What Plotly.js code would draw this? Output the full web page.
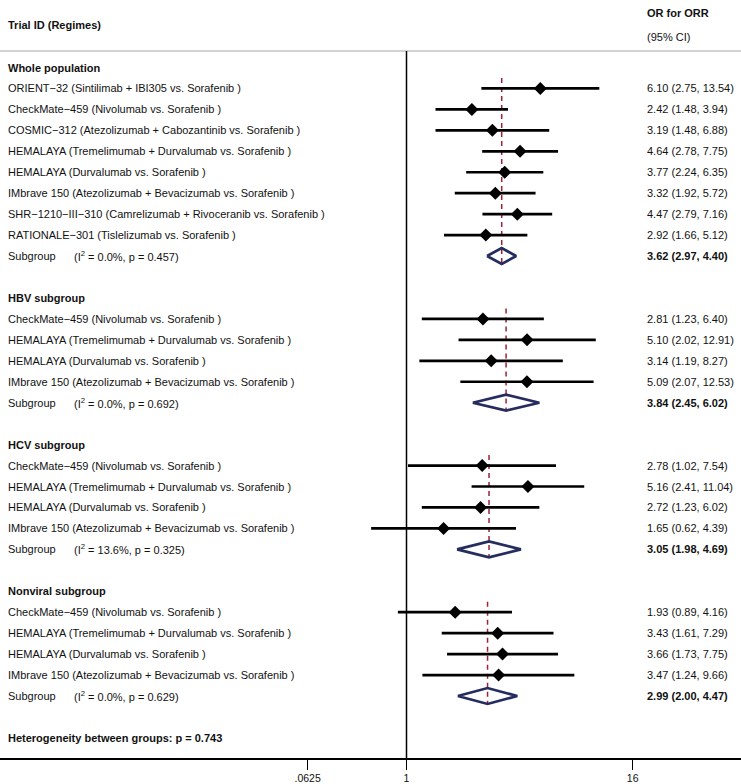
<!DOCTYPE html>
<html>
<head>
<meta charset="utf-8">
<script src="https://cdn.plot.ly/plotly-3.0.1.min.js"></script>
<style>html,body{margin:0;padding:0;background:#fff;}#chart{width:741px;height:784px;}</style>
</head>
<body>
<div id="chart"></div>
<script>
// ---------- data ----------
const groupNames = ["Whole population", "HBV subgroup", "HCV subgroup", "Nonviral subgroup"];

const wholeLabels = [
  "ORIENT\u221232 (Sintilimab + IBI305 vs. Sorafenib )",
  "CheckMate\u2212459 (Nivolumab vs. Sorafenib )",
  "COSMIC\u2212312 (Atezolizumab + Cabozantinib vs. Sorafenib )",
  "HEMALAYA (Tremelimumab + Durvalumab vs. Sorafenib )",
  "HEMALAYA (Durvalumab vs. Sorafenib )",
  "IMbrave 150 (Atezolizumab + Bevacizumab vs. Sorafenib )",
  "SHR\u22121210\u2212III\u2212310 (Camrelizumab + Rivoceranib vs. Sorafenib )",
  "RATIONALE\u2212301 (Tislelizumab vs. Sorafenib )"
];
const wholeOR = [6.10, 2.42, 3.19, 4.64, 3.77, 3.32, 4.47, 2.92];
const wholeLo = [2.75, 1.48, 1.48, 2.78, 2.24, 1.92, 2.79, 1.66];
const wholeHi = [13.54, 3.94, 6.88, 7.75, 6.35, 5.72, 7.16, 5.12];

const subLabels = [
  "CheckMate\u2212459 (Nivolumab vs. Sorafenib )",
  "HEMALAYA (Tremelimumab + Durvalumab vs. Sorafenib )",
  "HEMALAYA (Durvalumab vs. Sorafenib )",
  "IMbrave 150 (Atezolizumab + Bevacizumab vs. Sorafenib )"
];
const hbvOR = [2.81, 5.10, 3.14, 5.09];
const hbvLo = [1.23, 2.02, 1.19, 2.07];
const hbvHi = [6.40, 12.91, 8.27, 12.53];

const hcvOR = [2.78, 5.16, 2.72, 1.65];
const hcvLo = [1.02, 2.41, 1.23, 0.62];
const hcvHi = [7.54, 11.04, 6.02, 4.39];

const nonviralOR = [1.93, 3.43, 3.66, 3.47];
const nonviralLo = [0.89, 1.61, 1.73, 1.24];
const nonviralHi = [4.16, 7.29, 7.75, 9.66];

const pooledOR = [3.62, 3.84, 3.05, 2.99];
const pooledLo = [2.97, 2.45, 1.98, 2.00];
const pooledHi = [4.40, 6.02, 4.69, 4.47];
const pooledI2 = ["0.0%", "0.0%", "13.6%", "0.0%"];
const pooledP = ["0.457", "0.692", "0.325", "0.629"];

const heterogeneityP = "0.743";

const tickText = [".0625", "1", "16"];
const tickVals = [0.263, 1, 21.25];

// ---------- build ----------
const groups = [
  {labels: wholeLabels, or: wholeOR, lo: wholeLo, hi: wholeHi},
  {labels: subLabels, or: hbvOR, lo: hbvLo, hi: hbvHi},
  {labels: subLabels, or: hcvOR, lo: hcvLo, hi: hcvHi},
  {labels: subLabels, or: nonviralOR, lo: nonviralLo, hi: nonviralHi}
];

const FONT = "Liberation Sans, Arial, Helvetica, sans-serif";
const TXT = "#111111";
const LEFT_X = 5.5 / 741, SUB_X = 71.5 / 741, RIGHT_X = 644.5 / 741;
const fmt = v => v.toFixed(2);

const annotations = [];
function addText(text, x, y, bold) {
  annotations.push({
    xref: "paper", yref: "y", x: x, y: y, xanchor: "left", yanchor: "middle",
    text: bold ? "<b>" + text + "</b>" : text, showarrow: false,
    font: {family: FONT, size: 11, color: TXT}
  });
}

const ciX = [], ciY = [], ptX = [], ptY = [];
const diaX = [], diaY = [], refX = [], refY = [];
const DH = 0.38;

let row = 0;
groups.forEach((g, gi) => {
  const headerRow = row;
  addText(groupNames[gi], LEFT_X, row, true);
  row++;
  g.labels.forEach((lab, k) => {
    addText(lab, LEFT_X, row, false);
    addText(fmt(g.or[k]) + " (" + fmt(g.lo[k]) + ", " + fmt(g.hi[k]) + ")", RIGHT_X, row, false);
    ciX.push(g.lo[k], g.hi[k], null); ciY.push(row, row, null);
    ptX.push(g.or[k]); ptY.push(row);
    row++;
  });
  // pooled
  addText("Subgroup", LEFT_X, row, false);
  addText("(I<sup>2</sup> = " + pooledI2[gi] + ", p = " + pooledP[gi] + ")", SUB_X, row, false);
  addText(fmt(pooledOR[gi]) + " (" + fmt(pooledLo[gi]) + ", " + fmt(pooledHi[gi]) + ")", RIGHT_X, row, true);
  diaX.push(pooledLo[gi], pooledOR[gi], pooledHi[gi], pooledOR[gi], pooledLo[gi], null);
  diaY.push(row, row - DH, row, row + DH, row, null);
  refX.push(pooledOR[gi], pooledOR[gi], null);
  refY.push(headerRow + 0.5, row + DH, null);
  row++;
  row++; // blank
});
addText("Heterogeneity between groups: p = " + heterogeneityP, LEFT_X, row, true);

// headers (pixel -> row units)
const ROW0 = 67.5, STEP = 20.95;
const pxToRow = px => (px - ROW0) / STEP;
addText("Trial ID (Regimes)", LEFT_X, pxToRow(25), true);
addText("OR for ORR", RIGHT_X, pxToRow(13), true);
addText("(95% CI)", RIGHT_X, pxToRow(37), false);

const plotBottomPx = 758;
const yRange = [pxToRow(plotBottomPx), pxToRow(0)];
const topLineRow = pxToRow(51);

const traces = [
  {x: refX, y: refY, mode: "lines", line: {color: "#9b2335", width: 1.5, dash: "5px,4px"}, hoverinfo: "skip"},
  {x: ciX, y: ciY, mode: "lines", line: {color: "#000", width: 2.7}, hoverinfo: "skip"},
  {x: ptX, y: ptY, mode: "markers", marker: {symbol: "diamond", size: 10, color: "#000"}, hoverinfo: "skip"},
  {x: diaX, y: diaY, mode: "lines", line: {color: "#252c5e", width: 2.7}, hoverinfo: "skip"}
];

const pxPerDecade = 170.4;
const layout = {
  width: 741, height: 784,
  margin: {l: 0, r: 0, t: 0, b: 784 - plotBottomPx},
  paper_bgcolor: "#fff", plot_bgcolor: "#fff",
  showlegend: false,
  xaxis: {
    type: "log",
    range: [-406.5 / pxPerDecade, (741 - 406.5) / pxPerDecade],
    tickvals: tickVals, ticktext: tickText,
    ticks: "outside", ticklen: 10, tickwidth: 1.5, tickcolor: "#000",
    showline: true, linecolor: "#000", linewidth: 1.5,
    showgrid: false, zeroline: false,
    tickfont: {family: FONT, size: 10.5, color: TXT}
  },
  yaxis: {range: yRange, visible: false, showgrid: false, zeroline: false},
  shapes: [
    {type: "line", xref: "paper", yref: "y", x0: 0, x1: 1, y0: topLineRow, y1: topLineRow,
     line: {color: "#c4c4c4", width: 1.5}},
    {type: "line", xref: "x", yref: "y", x0: 1, x1: 1, y0: topLineRow, y1: yRange[0],
     line: {color: "#000", width: 1.5}}
  ],
  annotations: annotations
};

Plotly.newPlot("chart", traces, layout, {displayModeBar: false, staticPlot: true});
</script>
</body>
</html>
